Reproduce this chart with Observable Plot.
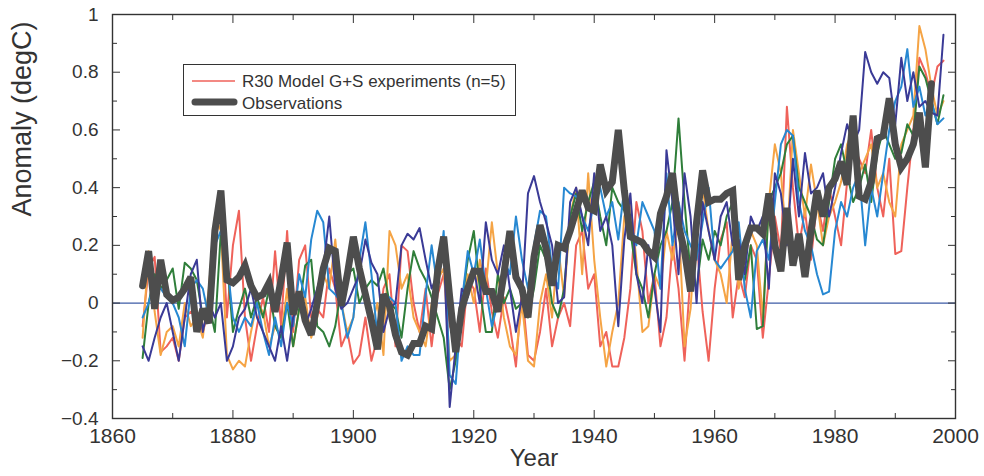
<!DOCTYPE html>
<html>
<head>
<meta charset="utf-8">
<script src="https://cdn.jsdelivr.net/npm/d3@7"></script>
<script src="https://cdn.jsdelivr.net/npm/@observablehq/plot@0.6"></script>
<style>
  body { margin: 0; background: #fff; }
  #wrap { position: relative; width: 984px; height: 476px; font-family: "Liberation Sans", Arial, sans-serif; }
  #legend { position: absolute; left: 183px; top: 64px; width: 333px; height: 52px; border: 1.5px solid #333; background: #fff; box-sizing: border-box; }
  #legend svg { display: block; }
</style>
</head>
<body>
<div id="wrap">
  <div id="chart"></div>
  <div id="legend"></div>
</div>
<script>
// ---- data ----
const firstYear = 1865;

const observations = [
  0.06, 0.18, -0.02, 0.15, 0.03, 0.01, 0.02, 0.05, 0.09, -0.10,
  -0.02, -0.07, 0.25, 0.39, 0.08, 0.07, 0.09, 0.13, 0.06, 0.02,
  0.03, 0.07, -0.03, 0.08, 0.21, -0.04, 0.04, -0.06, -0.11, 0.00,
  0.12, 0.19, 0.18, -0.01, 0.10, 0.23, 0.12, 0.03, -0.06, -0.16,
  0.03, -0.01, -0.11, -0.17, -0.18, -0.14, -0.14, -0.08, -0.09, 0.11,
  0.23, 0.02, -0.17, -0.02, 0.05, 0.11, 0.11, 0.04, 0.04, -0.03,
  0.10, 0.25, 0.09, 0.05, -0.05, 0.16, 0.27, 0.19, 0.06, 0.20,
  0.19, 0.25, 0.32, 0.39, 0.33, 0.32, 0.48, 0.39, 0.42, 0.60,
  0.39, 0.23, 0.22, 0.21, 0.18, 0.16, 0.31, 0.37, 0.45, 0.27,
  0.18, 0.04, 0.28, 0.46, 0.35, 0.36, 0.36, 0.38, 0.39, 0.08,
  0.20, 0.26, 0.26, 0.24, 0.38, 0.20, 0.11, 0.33, 0.13, 0.24,
  0.09, 0.25, 0.39, 0.30, 0.40, 0.43, 0.49, 0.41, 0.65, 0.37,
  0.36, 0.42, 0.57, 0.58, 0.71, 0.55, 0.47, 0.50, 0.55, 0.66,
  0.47, 0.76
];

const runRed = [
  -0.08, 0.12, 0.16, -0.17, -0.15, -0.12, -0.20, -0.05, -0.03, -0.05,
  -0.10, -0.02, 0.20, 0.34, -0.05, 0.20, 0.32, -0.05, -0.20, -0.08,
  0.02, -0.10, 0.18, -0.08, 0.25, -0.10, 0.15, 0.20, -0.05, -0.02,
  -0.05, 0.12, 0.05, -0.15, -0.10, -0.21, -0.18, -0.05, -0.20, -0.12,
  0.05, 0.10, -0.15, 0.20, 0.18, 0.00, -0.10, 0.05, -0.15, 0.03,
  0.10, -0.08, -0.12, -0.15, 0.08, 0.05, -0.10, 0.12, -0.03, -0.12,
  0.02, -0.08, -0.22, 0.05, -0.18, -0.20, -0.10, 0.05, -0.15, -0.05,
  0.00, -0.08, 0.20, 0.25, 0.05, 0.10, -0.15, -0.10, -0.22, -0.22,
  -0.12, 0.05, 0.35, 0.25, 0.00, 0.10, -0.15, -0.05, 0.20, 0.05,
  -0.20, 0.10, 0.22, -0.03, -0.20, 0.05, 0.22, 0.28, -0.05, 0.10,
  0.02, 0.20, 0.15, -0.12, 0.08, 0.30, 0.18, 0.68, 0.40, 0.20,
  0.32, 0.15, 0.35, 0.25, 0.40, 0.30, 0.20, 0.42, 0.55, 0.50,
  0.45, 0.60, 0.40, 0.30, 0.50, 0.17, 0.18, 0.40, 0.60, 0.85,
  0.80, 0.72, 0.82, 0.84
];

const runOrange = [
  -0.12, 0.18, -0.03, -0.18, -0.10, -0.08, -0.15, 0.00, -0.08, -0.05,
  -0.12, 0.05, 0.30, 0.25, -0.18, -0.23, -0.20, -0.22, -0.10, 0.00,
  -0.03, -0.15, -0.08, -0.12, 0.05, -0.15, -0.02, 0.02, -0.12, -0.05,
  0.10, 0.05, 0.22, 0.00, -0.10, -0.05, 0.15, 0.05, -0.08, 0.00,
  -0.18, 0.25, 0.20, 0.05, 0.10, -0.05, -0.10, -0.15, 0.00, 0.08,
  0.12, -0.20, -0.18, -0.05, 0.10, 0.00, 0.15, 0.05, 0.28, 0.10,
  -0.05, -0.15, -0.18, 0.00, -0.20, -0.22, 0.00, 0.10, -0.05, 0.20,
  0.02, 0.30, 0.40, 0.10, 0.45, 0.15, -0.05, -0.22, -0.10, 0.00,
  0.30, 0.35, 0.15, -0.10, -0.08, 0.10, 0.05, 0.25, 0.15, 0.30,
  -0.15, -0.02, 0.30, 0.40, 0.25, 0.15, 0.10, 0.00, 0.25, 0.05,
  0.15, 0.25, 0.20, -0.05, 0.35, 0.55, 0.45, 0.20, 0.60, 0.45,
  0.30, 0.48, 0.35, 0.20, 0.30, 0.35, 0.42, 0.55, 0.60, 0.45,
  0.50, 0.55, 0.40, 0.45, 0.35, 0.30, 0.55, 0.60, 0.65, 0.96,
  0.88, 0.75, 0.65, 0.70
];

const runGreen = [
  -0.19, 0.00, 0.10, 0.05, 0.08, 0.12, -0.02, 0.14, 0.12, 0.08,
  -0.05, 0.00, -0.10, 0.25, 0.15, -0.10, -0.02, 0.05, -0.05, 0.02,
  -0.05, 0.05, -0.08, -0.12, 0.00, -0.15, -0.02, 0.13, 0.15, -0.08,
  -0.10, -0.15, -0.08, 0.05, 0.10, 0.12, 0.00, 0.05, 0.08, 0.06,
  0.12, 0.00, -0.02, -0.12, 0.05, 0.18, 0.12, 0.08, 0.02, -0.05,
  -0.12, -0.30, -0.20, 0.00, 0.15, 0.25, 0.05, -0.10, -0.10, 0.10,
  0.00, 0.05, -0.02, 0.00, -0.05, 0.05, 0.20, 0.15, 0.00, -0.05,
  0.05, 0.30, 0.38, 0.25, 0.35, 0.42, 0.30, 0.20, 0.40, 0.35,
  0.32, 0.25, 0.10, 0.05, -0.05, 0.10, 0.20, 0.25, 0.35, 0.64,
  0.35, 0.10, 0.05, 0.22, 0.15, 0.25, 0.20, 0.30, 0.35, 0.12,
  0.08, 0.20, -0.09, -0.08, 0.35, 0.40, 0.45, 0.55, 0.58, 0.40,
  0.35, 0.30, 0.22, 0.20, 0.35, 0.50, 0.55, 0.45, 0.35, 0.40,
  0.48, 0.35, 0.52, 0.60, 0.55, 0.50, 0.52, 0.62, 0.58, 0.82,
  0.78, 0.70, 0.62, 0.72
];

const runBlue = [
  -0.05, 0.00, 0.08, 0.05, 0.02, 0.00, -0.05, -0.15, 0.05, 0.08,
  0.05, -0.05, 0.20, 0.25, 0.15, -0.05, -0.10, -0.05, -0.08, 0.00,
  -0.10, -0.18, -0.05, -0.15, 0.00, -0.08, 0.10, 0.02, 0.22, 0.32,
  0.28, 0.05, 0.03, 0.00, -0.12, -0.05, 0.15, 0.28, 0.10, -0.12,
  0.00, 0.02, 0.00, -0.20, -0.15, -0.18, -0.18, 0.03, 0.20, 0.05,
  0.25, -0.25, -0.28, 0.00, 0.18, 0.10, 0.22, 0.05, -0.08, 0.00,
  0.15, 0.10, 0.30, 0.15, 0.05, 0.20, 0.32, 0.30, 0.12, 0.05,
  0.40, 0.38, 0.37, 0.30, 0.25, 0.35, 0.40, 0.30, 0.35, 0.22,
  0.40, 0.28, 0.20, 0.35, 0.30, 0.25, 0.05, 0.45, 0.20, 0.35,
  0.25, 0.20, 0.15, 0.28, 0.40, 0.15, 0.12, 0.15, 0.18, 0.28,
  0.05, -0.05, 0.18, 0.22, 0.15, 0.35, 0.55, 0.60, 0.58, 0.35,
  0.25, 0.20, 0.10, 0.03, 0.04, 0.25, 0.35, 0.30, 0.40, 0.45,
  0.20, 0.40, 0.30, 0.45, 0.60, 0.70, 0.75, 0.88, 0.68, 0.75,
  0.65, 0.70, 0.62, 0.64
];

const runNavy = [
  -0.15, -0.20, -0.12, -0.05, 0.00, -0.10, -0.20, -0.05, 0.10, 0.15,
  -0.10, 0.00, -0.05, 0.00, -0.20, -0.15, -0.05, -0.02, 0.05, -0.05,
  -0.10, -0.15, -0.20, -0.08, -0.20, -0.05, 0.00, -0.08, -0.02, 0.05,
  0.12, 0.30, 0.05, -0.02, 0.00, 0.05, 0.10, 0.22, 0.14, 0.10,
  -0.10, -0.02, 0.00, 0.20, 0.24, 0.22, 0.26, 0.15, 0.05, 0.10,
  0.20, -0.36, -0.15, 0.05, 0.02, 0.12, 0.00, 0.28, 0.15, 0.10,
  0.20, 0.05, -0.10, 0.02, 0.38, 0.44, 0.35, 0.28, 0.20, 0.00,
  0.02, 0.35, 0.40, 0.30, 0.20, 0.45, 0.25, 0.30, 0.20, -0.08,
  0.22, 0.38, 0.10, 0.00, 0.20, 0.05, -0.10, 0.53, 0.35, 0.10,
  0.45, 0.30, 0.00, 0.35, 0.25, 0.15, 0.30, 0.35, 0.20, 0.22,
  0.10, 0.30, 0.25, 0.30, 0.05, 0.45, 0.38, 0.20, 0.50, 0.30,
  0.52, 0.38, 0.40, 0.45, 0.30, 0.40, 0.52, 0.62, 0.55, 0.60,
  0.87, 0.80, 0.76, 0.80, 0.78, 0.62, 0.85, 0.70, 0.80, 0.68,
  0.70, 0.66, 0.65, 0.93
];

const runNames = ["run1", "run2", "run3", "run4", "run5"];
const runSeries = [runRed, runOrange, runGreen, runBlue, runNavy];
const runColors = ["#ef625a", "#f5a445", "#2f7e3a", "#2788d2", "#3a3a96"];

const xTicks = [1860, 1880, 1900, 1920, 1940, 1960, 1980, 2000];
const xMinorTicks = [1870, 1890, 1910, 1930, 1950, 1970, 1990];
const yTicks = [-0.4, -0.2, 0, 0.2, 0.4, 0.6, 0.8, 1];
const yMinorTicks = [-0.3, -0.1, 0.1, 0.3, 0.5, 0.7, 0.9];

const legendModel = "R30 Model G+S experiments (n=5)";
const legendObs = "Observations";
const xTitle = "Year";
const yTitle = "Anomaly (degC)";

// ---- build tables ----
const modelRows = [];
runSeries.forEach((vals, k) => vals.forEach((v, i) => modelRows.push({run: runNames[k], year: firstYear + i, value: v})));
const obsRows = observations.map((v, i) => ({year: firstYear + i, value: v}));

const fmt = d => d === 0 ? "0" : (d < 0 ? "\u2212" : "") + (Math.abs(d) === 1 ? "1" : Math.abs(d).toFixed(1));
const none = () => "";
const ink = "#333";
const major = 8, minor = 5;

const chart = Plot.plot({
  width: 984,
  height: 476,
  marginLeft: 112,
  marginRight: 29,
  marginTop: 14,
  marginBottom: 58,
  x: {domain: [1860, 2000], label: null},
  y: {domain: [-0.4, 1], label: null},
  color: {domain: runNames, range: runColors},
  style: {fontFamily: "'Liberation Sans', Arial, sans-serif", color: ink, background: "#fff"},
  marks: [
    Plot.ruleY([0], {stroke: "#3d5ba6", strokeWidth: 1.3}),
    Plot.line(modelRows, {x: "year", y: "value", z: "run", stroke: "run", strokeWidth: 2, strokeLinejoin: "round"}),
    Plot.line(obsRows, {x: "year", y: "value", stroke: "#4d4d4d", strokeWidth: 7, strokeLinejoin: "miter", strokeMiterlimit: 3}),
    Plot.frame({stroke: ink, strokeWidth: 1.4}),
    // inward tick marks (outward ticks shifted back inside the frame)
    Plot.axisX({ticks: xTicks, anchor: "bottom", tickSize: major, dy: -major, tickFormat: none, label: null, stroke: ink}),
    Plot.axisX({ticks: xMinorTicks, anchor: "bottom", tickSize: minor, dy: -minor, tickFormat: none, label: null, stroke: ink}),
    Plot.axisX({ticks: xTicks, anchor: "top", tickSize: major, dy: major, tickFormat: none, label: null, stroke: ink}),
    Plot.axisX({ticks: xMinorTicks, anchor: "top", tickSize: minor, dy: minor, tickFormat: none, label: null, stroke: ink}),
    Plot.axisY({ticks: yTicks, anchor: "left", tickSize: major, dx: major, tickFormat: none, label: null, stroke: ink}),
    Plot.axisY({ticks: yMinorTicks, anchor: "left", tickSize: minor, dx: minor, tickFormat: none, label: null, stroke: ink}),
    Plot.axisY({ticks: yTicks, anchor: "right", tickSize: major, dx: -major, tickFormat: none, label: null, stroke: ink}),
    Plot.axisY({ticks: yMinorTicks, anchor: "right", tickSize: minor, dx: -minor, tickFormat: none, label: null, stroke: ink}),
    // tick labels
    Plot.axisX({ticks: xTicks, anchor: "bottom", tickSize: 0, tickPadding: 10, tickFormat: d => String(d), label: null, fontSize: 21, letterSpacing: 1.3}),
    Plot.axisY({ticks: yTicks, anchor: "left", tickSize: 0, tickPadding: 14, tickFormat: fmt, label: null, fontSize: 19, letterSpacing: 1.5}),
    // titles
    Plot.text([xTitle], {frameAnchor: "bottom", dy: 47, fontSize: 24, letterSpacing: 2, fill: ink}),
    Plot.text([yTitle], {frameAnchor: "left", dx: -90, rotate: -90, fontSize: 27, letterSpacing: 1.5, fill: ink})
  ]
});
document.getElementById("chart").appendChild(chart);

// ---- legend ----
const lg = d3.select("#legend").append("svg").attr("width", 330).attr("height", 49);
lg.append("line").attr("x1", 8).attr("x2", 51).attr("y1", 16).attr("y2", 16).attr("stroke", runColors[0]).attr("stroke-width", 1.6);
lg.append("text").attr("x", 58).attr("y", 22).attr("font-size", 17).attr("fill", ink).attr("font-family", "'Liberation Sans', Arial, sans-serif").text(legendModel);
lg.append("line").attr("x1", 11).attr("x2", 50).attr("y1", 37).attr("y2", 37).attr("stroke", "#4d4d4d").attr("stroke-width", 7).attr("stroke-linecap", "round");
lg.append("text").attr("x", 58).attr("y", 44).attr("font-size", 17).attr("fill", ink).attr("font-family", "'Liberation Sans', Arial, sans-serif").text(legendObs);
</script>
</body>
</html>
